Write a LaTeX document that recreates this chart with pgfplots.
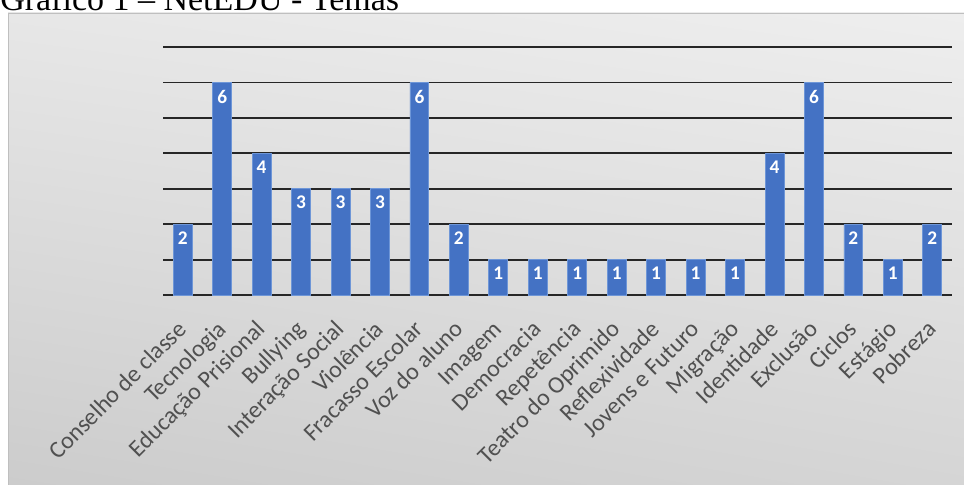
\documentclass[border=0pt]{standalone}
\usepackage{pgfplots}
\pgfplotsset{compat=1.18}
\usetikzlibrary{shadings}
\usepackage{fontspec}
\setmainfont{Carlito}
\newfontfamily\titlefont{Liberation Serif}
\definecolor{barblue}{RGB}{68,114,196}
\definecolor{baredge}{RGB}{110,150,215}
\definecolor{bgul}{RGB}{231,231,231}
\definecolor{bgur}{RGB}{238,238,238}
\definecolor{bgll}{RGB}{204,204,204}
\definecolor{bglr}{RGB}{213,213,213}
\definecolor{labgray}{RGB}{80,80,80}
\begin{document}
\begin{tikzpicture}
\clip (0,0) rectangle (723pt,363.75pt);
\useasboundingbox (0,0) rectangle (723pt,363.75pt);
\fill[white] (0,0) rectangle (723pt,363.75pt);
\shade[upper left=bgul, upper right=bgur, lower left=bgll, lower right=bglr] (6pt,0) rectangle (723pt,354pt);
\draw[gray!50, line width=0.6pt] (6pt,0) -- (6pt,354pt) -- (723pt,354pt);
\node[anchor=base west, inner sep=0pt, font=\titlefont\fontsize{25.5}{30}\selectfont] at (0,356.2pt) {Gráfico 1 – NetEDU - Temas};
\begin{axis}[
  at={(122.25pt,142.5pt)}, anchor=south west,
  scale only axis, width=591.75pt, height=186pt,
  xmin=-0.5, xmax=19.5, ymin=0, ymax=7,
  axis line style={draw=none},
  major tick style={draw=none},
  ymajorgrids, ytick={0,...,7}, yticklabels={},
  major grid style={black!85, line width=1.4pt},
  xtick=data,
  xticklabels={Conselho de classe, Tecnologia, Educação Prisional, Bullying, Interação Social, Violência, Fracasso Escolar, Voz do aluno, Imagem, Democracia, Repetência, Teatro do Oprimido, Reflexividade, Jovens e Futuro, Migração, Identidade, Exclusão, Ciclos, Estágio, Pobreza},
  xticklabel style={xshift=4pt, yshift=-22.5pt, rotate=45, anchor=base east, inner sep=0pt, font=\fontsize{18}{20}\selectfont, text=labgray},
  clip=false,
  ybar, bar width=0.48,
  /pgf/number format/assume math mode=true,
  nodes near coords,
  nodes near coords style={anchor=north, text=white, font=\bfseries\fontsize{14.5}{16}\selectfont, yshift=-2pt},
]
\addplot[fill=barblue, draw=baredge, line width=0.6pt] coordinates {
(0,2) (1,6) (2,4) (3,3) (4,3) (5,3) (6,6) (7,2) (8,1) (9,1)
(10,1) (11,1) (12,1) (13,1) (14,1) (15,4) (16,6) (17,2) (18,1) (19,2)};
\end{axis}
\end{tikzpicture}
\end{document}
